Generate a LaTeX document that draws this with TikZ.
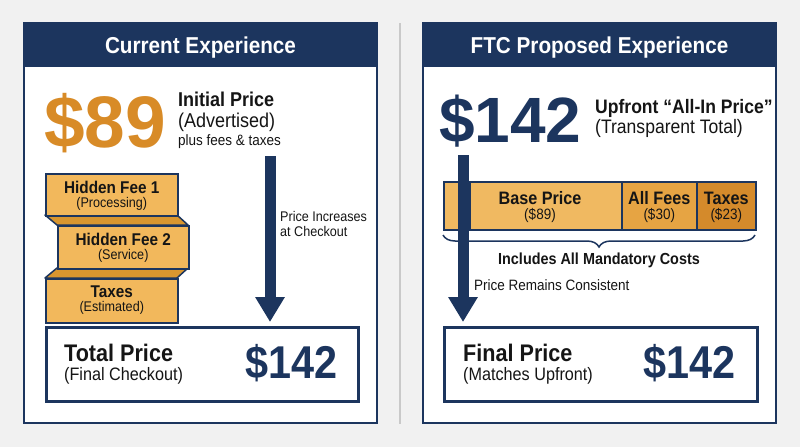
\documentclass[tikz,border=0pt]{standalone}
\usepackage{fontspec}
\setmainfont{Liberation Sans}[FakeStretch=0.9]
\newfontfamily\bignum{Liberation Sans}
\usetikzlibrary{arrows.meta,decorations.pathreplacing}
\definecolor{bg}{HTML}{F1F1F1}
\definecolor{navy}{HTML}{1C355E}
\definecolor{bigorange}{HTML}{D88B27}
\definecolor{boxfill}{HTML}{F2B85C}
\definecolor{foldfill}{HTML}{D9962F}
\definecolor{basefill}{HTML}{F0B961}
\definecolor{feesfill}{HTML}{E6A443}
\definecolor{taxfill}{HTML}{D48A2B}
\definecolor{ink}{HTML}{151515}
\definecolor{divider}{HTML}{C9C9C9}
\newcommand\fsz[1]{\fontsize{#1}{#1}\selectfont}
\begin{document}
\begin{tikzpicture}[x=1pt,y=-1pt,
  txt/.style={inner sep=0pt, text=ink, anchor=base west},
  ctxt/.style={inner sep=0pt, text=ink, anchor=base},
  hdr/.style={inner sep=0pt, text=white, anchor=base, font=\bfseries\fsz{23}},
  feebox/.style={draw=navy, line width=1.5pt, fill=boxfill, anchor=north west, inner sep=0pt},
  fold/.style={draw=navy, line width=1.5pt, fill=foldfill, line join=round},
  seg/.style={draw=navy, line width=1.5pt, anchor=north west, inner sep=0pt, minimum height=48pt},
  pricebox/.style={draw=navy, line width=3pt, fill=white, anchor=north west, inner sep=0pt, minimum width=312pt, minimum height=74pt},
  bigarrow/.style={draw=navy, line width=11pt, -{Triangle[width=28pt,length=25pt]}},
]
\useasboundingbox (0,0) rectangle (800,447);
\fill[bg] (0,0) rectangle (800,447);
% divider
\draw[divider, line width=2pt] (399.5,23) -- (399.5,424);

% ===== Left panel =====
\fill[white] (24,23) rectangle (377,423);
\fill[navy] (24,23) rectangle (377,67);
\draw[navy, line width=2pt] (24,23) rectangle (377,423);
\node[hdr] (lhdr) at (200.5,53) {Current Experience};

\node[inner sep=0pt, anchor=base west, text=bigorange, font=\bignum\bfseries\fsz{73}] (p89) at (44,147) {\$89};
\node[txt, font=\bfseries\fsz{20}] (ip1) at (178,106) {Initial Price};
\node[txt, font=\fsz{20}] (ip2) at (178,127) {(Advertised)};
\node[txt, font=\fsz{15}] (ip3) at (178,145) {plus fees \& taxes};

% folds
\filldraw[fold] (45,215) -- (177,215) -- (188,225) -- (57,225) -- cycle;
\filldraw[fold] (57,268) -- (188,268) -- (177,278) -- (45,278) -- cycle;
% fee boxes
\node[feebox, minimum width=132pt, minimum height=42pt] (f1) at (45,173) {};
\node[feebox, minimum width=131pt, minimum height=43pt] (f2) at (57,225) {};
\node[feebox, minimum width=132pt, minimum height=44pt] (f3) at (45,278) {};
\node[ctxt, font=\bfseries\fsz{17}] (f1a) at (f1.center |- 0,193) {Hidden Fee 1};
\node[ctxt, font=\fsz{14}] (f1b) at (f1.center |- 0,207) {(Processing)};
\node[ctxt, font=\bfseries\fsz{17}] (f2a) at (f2.center |- 0,245) {Hidden Fee 2};
\node[ctxt, font=\fsz{14}] (f2b) at (f2.center |- 0,259) {(Service)};
\node[ctxt, font=\bfseries\fsz{17}] (f3a) at (f3.center |- 0,297) {Taxes};
\node[ctxt, font=\fsz{14}] (f3b) at (f3.center |- 0,311) {(Estimated)};

% total box
\node[pricebox] (tot) at (45,326) {};
\node[txt, font=\bfseries\fsz{24}] (tot1) at (64,361) {Total Price};
\node[txt, font=\fsz{18}] (tot2) at (64,380) {(Final Checkout)};
\node[inner sep=0pt, anchor=base east, text=navy, font=\bfseries\fsz{46}] (tot3) at (338,378) {\$142};

% left arrow
\coordinate (la) at (270,156);
\draw[bigarrow, shorten >=4pt] (la) -- (la |- tot.north);
\node[txt, font=\fsz{14}] (pi1) at (280,221) {Price Increases};
\node[txt, font=\fsz{14}] (pi2) at (280,236) {at Checkout};

% ===== Right panel =====
\fill[white] (423,23) rectangle (776,423);
\fill[navy] (423,23) rectangle (776,67);
\draw[navy, line width=2pt] (423,23) rectangle (776,423);
\node[hdr] (rhdr) at (599.5,53) {FTC Proposed Experience};

\node[inner sep=0pt, anchor=base west, text=navy, font=\bignum\bfseries\fsz{64}] (p142) at (439,142) {\$142};
\node[txt, font=\bfseries\fsz{19.5}] (up1) at (595,113) {Upfront “All-In Price”};
\node[txt, font=\fsz{19.5}] (up2) at (595,133) {(Transparent Total)};

% bar
\node[seg, fill=basefill, minimum width=178pt] (base) at (443,181) {};
\node[seg, fill=feesfill, minimum width=75pt] (fees) at (621,181) {};
\node[seg, fill=taxfill, minimum width=59pt] (taxes) at (696,181) {};
\draw[navy, line width=1.5pt] (470,181) -- (470,229);
\node[ctxt, font=\bfseries\fsz{18}] (b1) at (540,204) {Base Price};
\node[ctxt, font=\fsz{15}] (b2) at (540,219) {(\$89)};
\node[ctxt, font=\bfseries\fsz{18}] (fe1) at (fees.center |- 0,204) {All Fees};
\node[ctxt, font=\fsz{15}] (fe2) at (fees.center |- 0,219) {(\$30)};
\node[ctxt, font=\bfseries\fsz{18}] (t1) at (taxes.center |- 0,204) {Taxes};
\node[ctxt, font=\fsz{15}] (t2) at (taxes.center |- 0,219) {(\$23)};

% brace
\draw[navy, line width=1.5pt, decorate, decoration={brace, amplitude=12pt, mirror}] (443,235) -- (755,235);
\node[ctxt, font=\bfseries\fsz{16}] (inc) at (599,264) {Includes All Mandatory Costs};

% final box
\node[pricebox, minimum width=313pt] (fin) at (443,326) {};
\node[txt, font=\bfseries\fsz{24}] (fin1) at (463,361) {Final Price};
\node[txt, font=\fsz{18}] (fin2) at (463,380) {(Matches Upfront)};
\node[inner sep=0pt, anchor=base east, text=navy, font=\bfseries\fsz{46}] (fin3) at (736,378) {\$142};

% right arrow
\coordinate (ra) at (463,155);
\draw[bigarrow, shorten >=4pt] (ra) -- (ra |- fin.north);
\node[txt, font=\fsz{15}] (prc) at (474,290) {Price Remains Consistent};
\end{tikzpicture}
\end{document}
